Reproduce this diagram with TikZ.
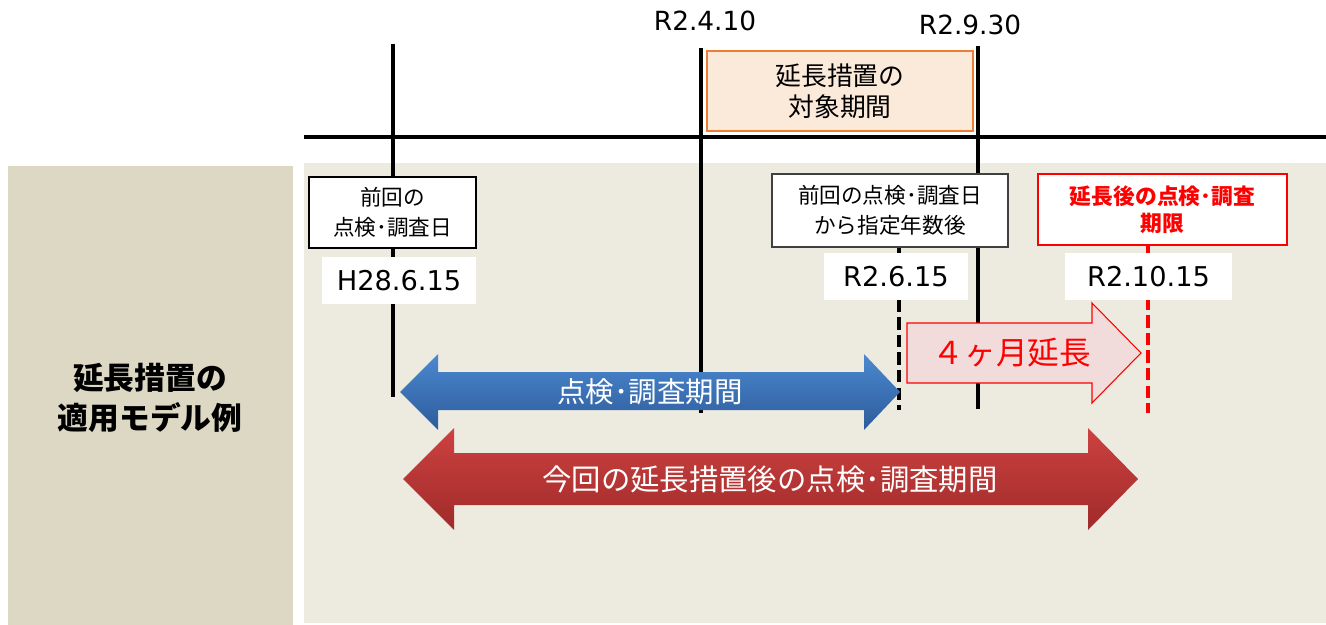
\documentclass[tikz,border=0pt]{standalone}
\usepackage{fontspec}
\usepackage{tikz}
\usetikzlibrary{positioning}
\newfontfamily\jp{Noto Sans CJK JP}
\newfontfamily\num{DejaVu Sans}
\definecolor{mtan}{HTML}{DDD8C4}
\definecolor{mpanel}{HTML}{EDEBE0}
\definecolor{morange}{HTML}{ED7D31}
\definecolor{mpeach}{HTML}{FBE9DA}
\definecolor{mpink}{HTML}{F2DCDB}
\definecolor{mred}{HTML}{FF0000}
\tikzset{box/.style = {draw, line width=1pt, fill=white, align=center, inner sep=0pt,
                       font=\jp\fontsize{12.3}{17}\selectfont},
         datebox/.style = {fill=white, inner sep=0pt, minimum height=0.94cm,
                           font=\num\fontsize{15.5}{18}\selectfont},
         timeline/.style = {line width=2pt}}

\begin{document}
\begin{tikzpicture}[x=0.02cm, y=-0.02cm]
    \useasboundingbox (0, 0) rectangle (1326, 625);
    % background panels
    \fill [mtan] (8, 166) rectangle (293, 625);
    \fill [mpanel] (304, 163) rectangle (1326, 623);
    \node [align=center, font=\jp\bfseries\fontsize{17.5}{22.7}\selectfont] (title) at (150, 398)
          {延長措置の\\適用モデル例};
    % time axis
    \draw [timeline] (304, 137) -- (1326, 137);
    \draw [timeline] (393, 44) -- (393, 397);
    \draw [timeline] (701, 48) -- (701, 413);
    \draw [timeline] (978, 46) -- (978, 409);
    \draw [line width=1.8pt, dash pattern=on 7pt off 3pt] (899, 247) -- (899, 410);
    \draw [mred, line width=1.8pt, dash pattern=on 7pt off 3pt] (1148, 245) -- (1148, 413);
    \node [font=\num\fontsize{15}{18}\selectfont] (d1) at (705, 21) {R2.4.10};
    \node [font=\num\fontsize{15}{18}\selectfont] (d2) at (970, 25) {R2.9.30};
    \node [draw=morange, line width=1pt, fill=mpeach, align=center, inner sep=0pt,
           minimum width=5.32cm, minimum height=1.6cm,
           font=\jp\fontsize{14.7}{17.6}\selectfont] (target) at (840, 91) {延長措置の\\対象期間};
    % boxes
    \node [box, minimum width=3.34cm, minimum height=1.42cm] (prev) at (392.5, 212.5)
          {前回の\\点検･調査日};
    \node [datebox, minimum width=3.08cm] (prevdate) at (399, 280.5) {H28.6.15};
    \node [box, draw=black!75, minimum width=4.72cm, minimum height=1.46cm] (due) at (890, 210.5)
          {前回の点検･調査日\\から指定年数後};
    \node [datebox, minimum width=2.88cm] (duedate) at (896, 276.5) {R2.6.15};
    \node [box, draw=mred, text=mred, minimum width=4.98cm, minimum height=1.42cm,
           font=\jp\bfseries\fontsize{12.4}{15.3}\selectfont] (limit) at (1162.5, 209.5)
          {延長後の点検･調査\\期限};
    \node [datebox, minimum width=3.34cm] (limitdate) at (1148.5, 276.5) {R2.10.15};
    % arrows
    \path [draw=mred, line width=0.6pt, fill=mpink]
          (907, 323) -- (1092, 323) -- (1092, 303) -- (1141, 353) -- (1092, 403)
          -- (1092, 383) -- (907, 383) -- cycle;
    \node [text=mred, font=\jp\fontsize{18}{20}\selectfont] (ext) at (1012, 353) {４ヶ月延長};
    \shade [top color={rgb,255:red,76;green,136;blue,207}, bottom color={rgb,255:red,44;green,92;blue,156}]
          (400, 392) -- (438, 354) -- (438, 372) -- (864, 372) -- (864, 354) -- (900, 392)
          -- (864, 430) -- (864, 410) -- (438, 410) -- (438, 430) -- cycle;
    \node [text=white, font=\jp\fontsize{16.2}{18}\selectfont] (period) at (650, 392) {点検･調査期間};
    \shade [top color={rgb,255:red,204;green,66;blue,64}, bottom color={rgb,255:red,160;green,42;blue,42}]
          (403, 479) -- (454, 428) -- (454, 453) -- (1088, 453) -- (1088, 428) -- (1138, 479)
          -- (1088, 530) -- (1088, 505) -- (454, 505) -- (454, 530) -- cycle;
    \node [text=white, font=\jp\fontsize{16.7}{18}\selectfont] (newperiod) at (770, 479)
          {今回の延長措置後の点検･調査期間};
\end{tikzpicture}
\end{document}
